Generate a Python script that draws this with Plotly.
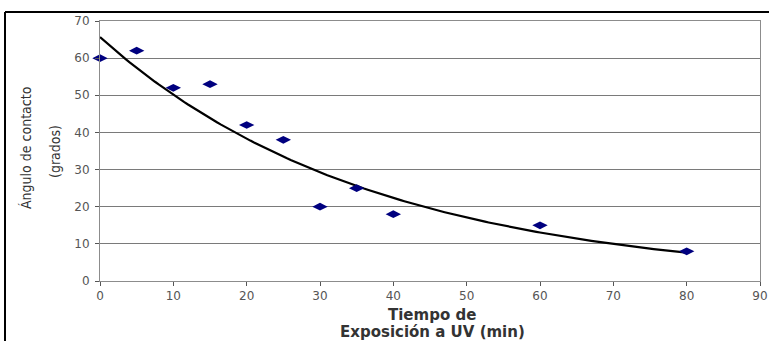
import numpy as np
import plotly.graph_objects as go

# Data
tiempo = [0, 5, 10, 15, 20, 25, 30, 35, 40, 60, 80]
angulo = [60, 62, 52, 53, 42, 38, 20, 25, 18, 15, 8]
x_ticks = [0, 10, 20, 30, 40, 50, 60, 70, 80, 90]
y_ticks = [0, 10, 20, 30, 40, 50, 60, 70]

# Exponential trendline (least squares on ln y, as a spreadsheet does)
b, ln_a = np.polyfit(np.array(tiempo, float), np.log(np.array(angulo, float)), 1)
xs = np.linspace(min(tiempo), max(tiempo), 161)
ys = np.exp(ln_a) * np.exp(b * xs)

fig = go.Figure()
fig.add_trace(go.Scatter(x=xs, y=ys, mode="lines", cliponaxis=False,
                         line=dict(color="black", width=2.2), hoverinfo="skip"))
fig.add_trace(go.Scatter(x=tiempo, y=angulo, mode="markers", cliponaxis=False,
                         marker=dict(symbol="diamond-wide", size=11, color="#00007f",
                                     line=dict(width=0))))

W, H = 769, 341
L, R, T, B = 100, 9, 21, 60
pw, ph = W - L - R, H - T - B

def px_x(p):
    return (p - L) / pw

def px_y(p):
    return 1 - (p - T) / ph

tick_font = dict(family="DejaVu Sans, Liberation Sans, Arial", size=12, color="#555555")
ytitle_font = dict(family="DejaVu Sans Condensed, Liberation Sans, Arial", size=14, color="#333333")
xtitle_font = dict(family="DejaVu Sans, Liberation Sans, Arial", size=15, color="#333333")

fig.update_layout(
    width=W, height=H,
    margin=dict(l=L, r=R, t=T, b=B, pad=0, autoexpand=False),
    paper_bgcolor="white", plot_bgcolor="white",
    showlegend=False,
    xaxis=dict(range=[0, 90], tickvals=x_ticks, ticktext=[str(v) for v in x_ticks],
               showgrid=False, zeroline=False, showline=True, linecolor="#8c8c8c",
               linewidth=1, mirror=True, ticks="outside", ticklen=4, tickcolor="#555",
               tickfont=tick_font, automargin=False),
    yaxis=dict(range=[0, 70], tickvals=y_ticks, ticktext=[str(v) for v in y_ticks],
               showgrid=True, gridcolor="#7a7a7a", gridwidth=1, zeroline=False,
               showline=True, linecolor="#8c8c8c", linewidth=1, mirror=True,
               ticks="outside", ticklen=4, tickcolor="#555", tickfont=tick_font,
               ticklabelstandoff=3, automargin=False),
    annotations=[
        dict(text="Ángulo de contacto", textangle=-90, showarrow=False,
             xref="paper", yref="paper", x=px_x(26), y=px_y(148),
             xanchor="center", yanchor="middle", font=ytitle_font),
        dict(text="(grados)", textangle=-90, showarrow=False,
             xref="paper", yref="paper", x=px_x(55), y=px_y(152),
             xanchor="center", yanchor="middle", font=ytitle_font),
        dict(text="<b>Tiempo de</b>", showarrow=False,
             xref="paper", yref="paper", x=px_x(432), y=px_y(315),
             xanchor="center", yanchor="middle", font=xtitle_font),
        dict(text="<b>Exposición a UV (min)</b>", showarrow=False,
             xref="paper", yref="paper", x=px_x(432), y=px_y(332),
             xanchor="center", yanchor="middle", font=xtitle_font),
    ],
    shapes=[
        dict(type="line", xref="paper", yref="paper",
             x0=px_x(5), x1=px_x(780), y0=px_y(12), y1=px_y(12),
             line=dict(color="black", width=2)),
        dict(type="line", xref="paper", yref="paper",
             x0=px_x(5), x1=px_x(5), y0=px_y(12), y1=px_y(350),
             line=dict(color="black", width=2)),
    ],
)

fig.write_html("out.html")
